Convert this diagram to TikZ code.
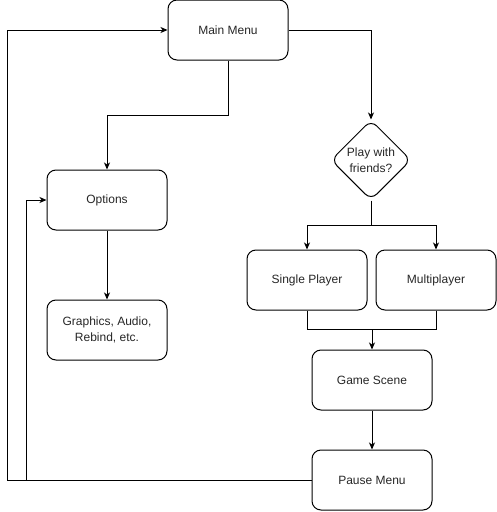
\documentclass[tikz,border=0pt]{standalone}
\usepackage{fontspec}
\setmainfont{Liberation Sans}
\usetikzlibrary{arrows.meta,positioning,shapes.geometric}

\begin{document}
\begin{tikzpicture}[x=1pt, y=-1pt, font=\fontsize{12}{16}\selectfont,
    >={Stealth[length=7pt,width=6pt,inset=2pt]}, line width=1pt,
    state/.style={ draw, rounded corners=9pt, minimum width=120pt, minimum
        height=60pt, align=center, inner sep=2pt, text=black!85 },
    decision/.style={ draw, diamond, aspect=1, minimum width=80pt, minimum
        height=80pt, inner sep=-2pt, rounded corners=8pt, align=center,
        text=black!85 },
    arrow/.style={->} ]

    \useasboundingbox (0,0) rectangle (497,512);

    \node[state]    (mainmenu) at (228,30)  {Main Menu};
    \node[state]    (options)  at (107,200) {Options};
    \node[state]    (graphics) at (107,330) {Graphics, Audio,\\Rebind, etc.};
    \node[decision] (play)     at (371,160) {Play with\\friends?};
    \node[state]    (single)   at (307,280) {Single Player};
    \node[state]    (multi)    at (436,280) {Multiplayer};
    \node[state]    (game)     at (372,380) {Game Scene};
    \node[state]    (pause)    at (372,480) {Pause Menu};

    \draw[arrow] (mainmenu.east) -| (play.north);
    \draw[arrow] (mainmenu.south) -- ++(0,55) -| (options.north);
    \draw[arrow] (options) -- (graphics);

    \draw (play.south) -- ++(0,25) coordinate (split);
    \draw[arrow] (split) -| (single.north);
    \draw[arrow] (split) -| (multi.north);

    \path (game.north) ++(0,-20) coordinate (merge);
    \draw (single.south) |- (merge);
    \draw (multi.south) |- (merge);
    \draw[arrow] (merge) -- (game.north);
    \draw[arrow] (game) -- (pause);

    \draw[arrow] (pause.west) -- ++(-304,0) |- (mainmenu.west);
    \draw[arrow] (pause.west) -- ++(-285,0) |- (options.west);

\end{tikzpicture}
\end{document}
